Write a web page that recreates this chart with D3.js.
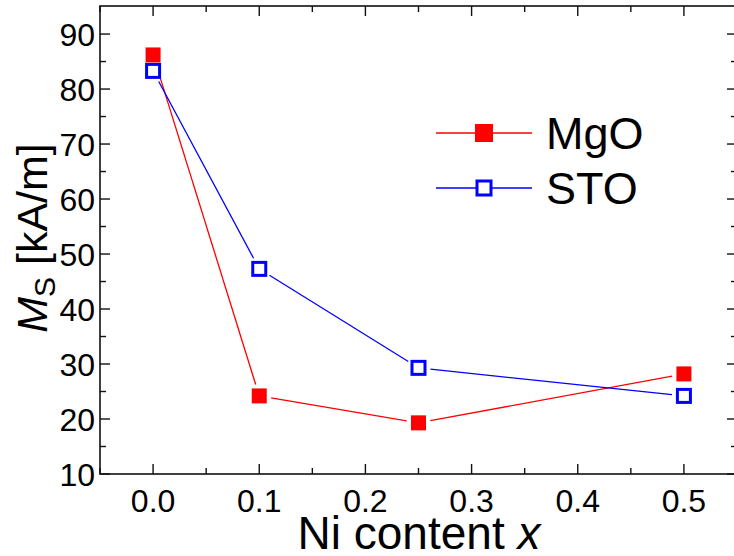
<!DOCTYPE html>
<meta charset="utf-8">
<script src="https://cdn.jsdelivr.net/npm/d3@7"></script>
<style>
  body { margin: 0; background: #fff; }
  svg text { font-family: "Liberation Sans", Arial, sans-serif; fill: #000; }
</style>
<div id="chart"></div>
<script>
// data
var niContent = [0.0, 0.1, 0.25, 0.5];
var msMgO = [86.2, 24.2, 19.3, 28.2];
var msSTO = [83.3, 47.3, 29.3, 24.2];
var xTicks = [0.0, 0.1, 0.2, 0.3, 0.4, 0.5];
var yTicks = [10, 20, 30, 40, 50, 60, 70, 80, 90];
var seriesNames = ["MgO", "STO"];

var W = 734, H = 556;
var pLeft = 100, pRight = 737, pTop = 6, pBottom = 474;

var svg = d3.select("#chart").append("svg")
  .attr("width", W).attr("height", H);

var x = d3.scaleLinear().domain([-0.05, 0.55]).range([pLeft, pRight]);
var y = d3.scaleLinear().domain([10, 95.1]).range([pBottom, pTop]);

var xMinor = d3.range(-0.05, 0.551, 0.05).filter(function(v) {
  return Math.abs(Math.round(v * 10) - v * 10) > 0.01;
});
var yMinor = d3.range(15, 95, 10);

// frame
svg.append("rect")
  .attr("x", pLeft).attr("y", pTop)
  .attr("width", pRight - pLeft).attr("height", pBottom - pTop)
  .attr("fill", "none").attr("stroke", "#111").attr("stroke-width", 1.6);

// ticks (all inward) - major and minor, all four sides
var tk = svg.append("g").attr("stroke", "#111").attr("stroke-width", 1.4);
xTicks.forEach(function(v) {
  tk.append("line").attr("x1", x(v)).attr("x2", x(v)).attr("y1", pBottom).attr("y2", pBottom - 10);
  tk.append("line").attr("x1", x(v)).attr("x2", x(v)).attr("y1", pTop).attr("y2", pTop + 10);
});
xMinor.forEach(function(v) {
  tk.append("line").attr("x1", x(v)).attr("x2", x(v)).attr("y1", pBottom).attr("y2", pBottom - 6);
  tk.append("line").attr("x1", x(v)).attr("x2", x(v)).attr("y1", pTop).attr("y2", pTop + 6);
});
yTicks.forEach(function(v) {
  tk.append("line").attr("x1", pLeft).attr("x2", pLeft + 10).attr("y1", y(v)).attr("y2", y(v));
  tk.append("line").attr("x1", pRight).attr("x2", pRight - 10).attr("y1", y(v)).attr("y2", y(v));
});
yMinor.forEach(function(v) {
  tk.append("line").attr("x1", pLeft).attr("x2", pLeft + 6).attr("y1", y(v)).attr("y2", y(v));
  tk.append("line").attr("x1", pRight).attr("x2", pRight - 6).attr("y1", y(v)).attr("y2", y(v));
});

// tick labels
svg.append("g").selectAll("text").data(xTicks).enter().append("text")
  .attr("x", function(d) { return x(d); })
  .attr("y", 512)
  .attr("text-anchor", "middle")
  .style("font-size", "32px")
  .text(function(d) { return d3.format(".1f")(d); });

svg.append("g").selectAll("text").data(yTicks).enter().append("text")
  .attr("x", 95)
  .attr("y", function(d) { return y(d); })
  .attr("dy", "0.36em")
  .attr("text-anchor", "end")
  .style("font-size", "32px")
  .text(function(d) { return d; });

// axis titles
var xt = svg.append("text")
  .attr("x", 419).attr("y", 549)
  .attr("text-anchor", "middle")
  .style("font-size", "46px");
xt.append("tspan").text("Ni content ");
xt.append("tspan").style("font-style", "italic").text("x");

var yt = svg.append("text")
  .attr("transform", "translate(47,238) rotate(-90)")
  .attr("text-anchor", "middle")
  .style("font-size", "43px");
yt.append("tspan").style("font-style", "italic").text("M");
yt.append("tspan").attr("dy", 8).style("font-size", "30px").text("S");
yt.append("tspan").attr("dy", -8).text(" [kA/m]");

// lines with a small gap around each marker
function gappedSegments(xs, ys, gap) {
  var segs = [];
  for (var i = 0; i < xs.length - 1; i++) {
    var x1 = x(xs[i]), y1 = y(ys[i]), x2 = x(xs[i + 1]), y2 = y(ys[i + 1]);
    var dx = x2 - x1, dy = y2 - y1, len = Math.sqrt(dx * dx + dy * dy);
    var ux = dx / len, uy = dy / len;
    segs.push([x1 + ux * gap, y1 + uy * gap, x2 - ux * gap, y2 - uy * gap]);
  }
  return segs;
}

var series = [
  { name: seriesNames[0], values: msMgO, color: "#ff0000", filled: true },
  { name: seriesNames[1], values: msSTO, color: "#0000ff", filled: false }
];

series.forEach(function(s) {
  svg.append("g").selectAll("line").data(gappedSegments(niContent, s.values, 12)).enter()
    .append("line")
    .attr("x1", function(d) { return d[0]; }).attr("y1", function(d) { return d[1]; })
    .attr("x2", function(d) { return d[2]; }).attr("y2", function(d) { return d[3]; })
    .attr("stroke", s.color).attr("stroke-width", 1.3);
});

series.forEach(function(s) {
  var sz = s.filled ? 15 : 13;
  svg.append("g").selectAll("rect").data(niContent).enter().append("rect")
    .attr("x", function(d) { return x(d) - sz / 2; })
    .attr("y", function(d, i) { return y(s.values[i]) - sz / 2; })
    .attr("width", sz).attr("height", sz)
    .attr("fill", s.filled ? s.color : "#fff")
    .attr("stroke", s.color)
    .attr("stroke-width", s.filled ? 0 : 3);
});

// legend
var legY = [133, 188];
series.forEach(function(s, i) {
  var g = svg.append("g");
  g.append("line").attr("x1", 436).attr("x2", 532).attr("y1", legY[i]).attr("y2", legY[i])
    .attr("stroke", s.color).attr("stroke-width", 1.3);
  if (s.filled) {
    g.append("rect").attr("x", 475).attr("y", legY[i] - 9).attr("width", 18).attr("height", 18)
      .attr("fill", s.color);
  } else {
    g.append("rect").attr("x", 477).attr("y", legY[i] - 7).attr("width", 14).attr("height", 14)
      .attr("fill", "#fff").attr("stroke", s.color).attr("stroke-width", 3);
  }
  g.append("text").attr("x", 546).attr("y", legY[i] + 16)
    .style("font-size", "45px").text(s.name);
});
</script>
